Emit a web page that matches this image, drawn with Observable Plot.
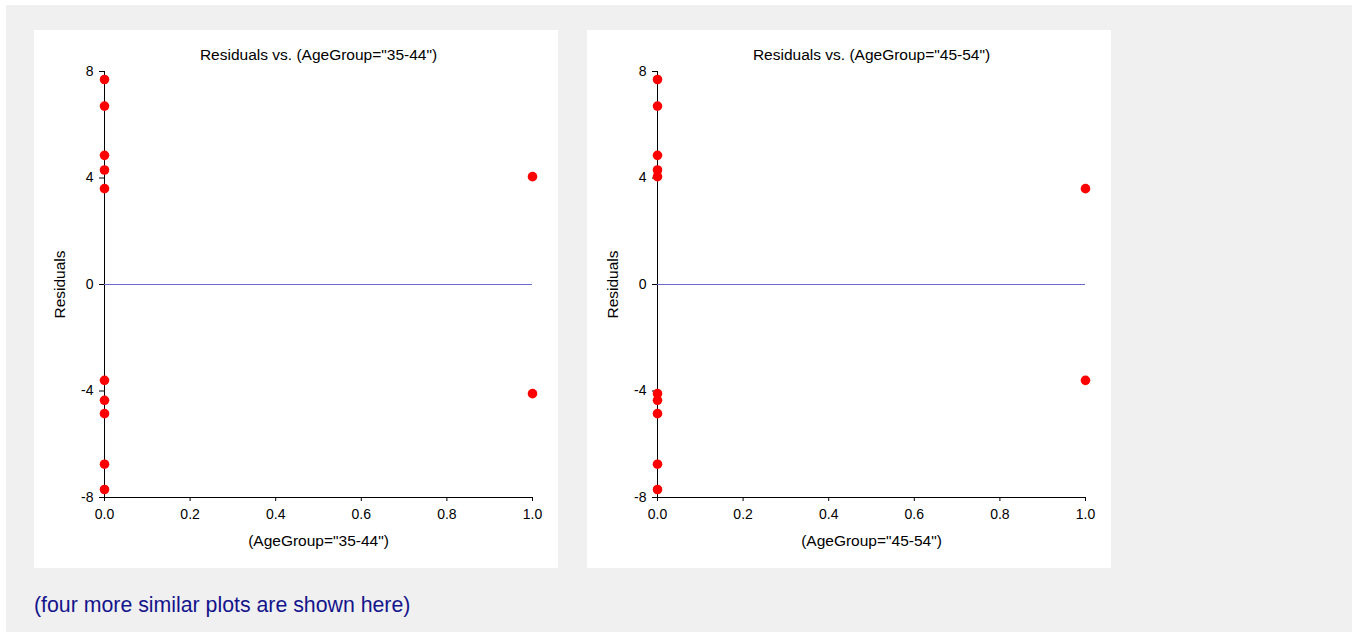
<!DOCTYPE html>
<html>
<head>
<meta charset="utf-8">
<script src="https://cdn.jsdelivr.net/npm/d3@7"></script>
<script src="https://cdn.jsdelivr.net/npm/@observablehq/plot@0.6"></script>
<style>
  html, body { margin: 0; padding: 0; background: #ffffff; }
  #bg { position: absolute; left: 6px; top: 5px; width: 1346px; height: 627px; background: #f0f0f0; }
  .panel { position: absolute; top: 25px; width: 524px; height: 538px; background: #ffffff; }
  #p1 { left: 28px; }
  #p2 { left: 581px; }
  #caption { position: absolute; left: 28px; top: 588px; line-height: 24px; font-family: "Liberation Sans", Arial, sans-serif; font-size: 21.3px; color: #14148c; }
</style>
</head>
<body>
<div id="bg">
  <div class="panel" id="p1"></div>
  <div class="panel" id="p2"></div>
  <div id="caption">(four more similar plots are shown here)</div>
</div>
<script>
const groups = ["35-44", "45-54"];
const xLeft = [0, 0, 0, 0, 0, 0, 0, 0, 0, 0, 1, 1];
const residLeft = [7.7, 6.7, 4.85, 4.3, 3.6, -3.6, -4.35, -4.85, -6.75, -7.7, 4.05, -4.1];
const xRight = [0, 0, 0, 0, 0, 0, 0, 0, 0, 0, 1, 1];
const residRight = [7.7, 6.7, 4.85, 4.3, 4.05, -4.1, -4.35, -4.85, -6.75, -7.7, 3.6, -3.6];
const xTicks = [0, 0.2, 0.4, 0.6, 0.8, 1.0];
const yTicks = [-8, -4, 0, 4, 8];

function panel(group, xs, ys) {
  const data = xs.map((x, i) => ({x, y: ys[i]}));
  const name = `(AgeGroup="${group}")`;
  return Plot.plot({
    width: 524,
    height: 538,
    marginLeft: 70,
    marginRight: 26,
    marginTop: 41,
    marginBottom: 71,
    style: { background: "#ffffff", fontFamily: "'Liberation Sans', Arial, sans-serif", fontSize: "14px", color: "#000000" },
    x: { domain: [0, 1] },
    y: { domain: [-8, 8] },
    marks: [
      Plot.axisY({ ticks: yTicks, tickSize: 5, tickPadding: 6, tickFormat: d => String(d), fontSize: 14, label: null }),
      Plot.axisX({ ticks: xTicks, tickSize: 4, tickPadding: 8, tickFormat: d => d.toFixed(1), fontSize: 14, label: null }),
      Plot.text(["Residuals"], { text: d => d, frameAnchor: "left", textAnchor: "middle", dx: -44, rotate: -90, fontSize: 15.5, fill: "#000000" }),
      Plot.text([name], { text: d => d, frameAnchor: "bottom", dy: 48, fontSize: 15.5, fill: "#000000" }),
      Plot.ruleX([0], { y1: -8, y2: 8, stroke: "#000000" }),
      Plot.ruleY([-8], { x1: 0, x2: 1, stroke: "#000000" }),
      Plot.ruleY([0], { x1: 0, x2: 1, stroke: "#6a6ac8" }),
      Plot.dot(data, { x: "x", y: "y", r: 4.8, fill: "#ff0000", stroke: "none" }),
      Plot.text([`Residuals vs. ${name}`], { text: d => d, frameAnchor: "top", dy: -23, fontSize: 15.5, fill: "#000000" })
    ]
  });
}

document.getElementById("p1").appendChild(panel(groups[0], xLeft, residLeft));
document.getElementById("p2").appendChild(panel(groups[1], xRight, residRight));
</script>
</body>
</html>
